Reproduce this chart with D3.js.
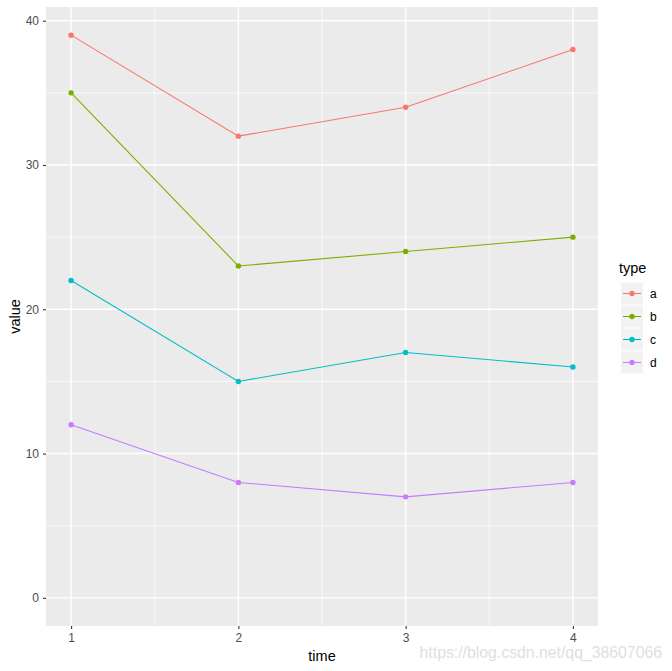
<!DOCTYPE html>
<html><head><meta charset="utf-8">
<script src="https://cdn.jsdelivr.net/npm/d3@7"></script>
<style>body{margin:0;background:#fff}svg{display:block}text{font-family:Arial,"Liberation Sans",sans-serif}</style>
</head><body><svg id="c" width="672" height="671"></svg>
<script>
const times = [1, 2, 3, 4];
const types = ["a", "b", "c", "d"];
const valuesA = [39, 32, 34, 38];
const valuesB = [35, 23, 24, 25];
const valuesC = [22, 15, 17, 16];
const valuesD = [12, 8, 7, 8];
const colors = ["#F8766D", "#7CAE00", "#00BFC4", "#C77CFF"];
const yTicks = [0, 10, 20, 30, 40];
const yMinor = [5, 15, 25, 35];
const xMinor = [1.5, 2.5, 3.5];
const series = [valuesA, valuesB, valuesC, valuesD];

const svg = d3.select("#c");
const L = 46, R = 598, T = 7, B = 626;
const x = d3.scaleLinear().domain([0.85, 4.15]).range([L, R]);
const y = d3.scaleLinear().domain([-1.95, 40.95]).range([B, T]);

svg.append("rect").attr("x", L).attr("y", T).attr("width", R - L).attr("height", B - T).attr("fill", "#EBEBEB");
const g = svg.append("g");
yMinor.forEach(v => g.append("line").attr("x1", L).attr("x2", R).attr("y1", y(v)).attr("y2", y(v)).attr("stroke", "#fff").attr("stroke-width", 0.7));
xMinor.forEach(v => g.append("line").attr("y1", T).attr("y2", B).attr("x1", x(v)).attr("x2", x(v)).attr("stroke", "#fff").attr("stroke-width", 0.7));
yTicks.forEach(v => g.append("line").attr("x1", L).attr("x2", R).attr("y1", y(v)).attr("y2", y(v)).attr("stroke", "#fff").attr("stroke-width", 1.4));
times.forEach(v => g.append("line").attr("y1", T).attr("y2", B).attr("x1", x(v)).attr("x2", x(v)).attr("stroke", "#fff").attr("stroke-width", 1.4));

// axes
const yAxis = svg.append("g").attr("transform", `translate(${L},0)`)
  .call(d3.axisLeft(y).tickValues(yTicks).tickSize(3).tickPadding(4).tickFormat(d3.format("d")));
const xAxis = svg.append("g").attr("transform", `translate(0,${B})`)
  .call(d3.axisBottom(x).tickValues(times).tickSize(3).tickPadding(4).tickFormat(d3.format("d")));
[yAxis, xAxis].forEach(a => {
  a.select(".domain").remove();
  a.selectAll(".tick line").attr("stroke", "#333").attr("stroke-width", 1.1);
  a.selectAll(".tick text").attr("fill", "#4D4D4D").style("font-size", "12px").style("font-family", "Arial, 'Liberation Sans', sans-serif");
});

const line = d3.line().x((d, i) => x(times[i])).y(d => y(d));
series.forEach((s, k) => {
  svg.append("path").datum(s).attr("d", line).attr("fill", "none").attr("stroke", colors[k]).attr("stroke-width", 1.07);
  svg.selectAll(null).data(s).enter().append("circle")
    .attr("cx", (d, i) => x(times[i])).attr("cy", d => y(d)).attr("r", 2.7).attr("fill", colors[k]);
});

// axis titles
svg.append("text").attr("x", (L + R) / 2).attr("y", 661).attr("text-anchor", "middle").style("font-size", "14.5px").attr("fill", "#000").text("time");
svg.append("text").attr("transform", `translate(20,${(T + B) / 2}) rotate(-90)`).attr("text-anchor", "middle").style("font-size", "14.5px").attr("fill", "#000").text("value");

// legend
svg.append("text").attr("x", 619).attr("y", 273).style("font-size", "14.5px").attr("fill", "#000").text("type");
types.forEach((t, k) => {
  const cy = 293.5 + k * 23;
  svg.append("rect").attr("x", 621).attr("y", cy - 11).attr("width", 22).attr("height", 22).attr("fill", "#F2F2F2");
  svg.append("line").attr("x1", 623).attr("x2", 641).attr("y1", cy).attr("y2", cy).attr("stroke", colors[k]).attr("stroke-width", 1.07);
  svg.append("circle").attr("cx", 632).attr("cy", cy).attr("r", 2.7).attr("fill", colors[k]);
  svg.append("text").attr("x", 650).attr("y", cy + 4.5).style("font-size", "12px").attr("fill", "#000").text(t);
});

// watermark
svg.append("text").attr("x", 662).attr("y", 658).attr("text-anchor", "end").style("font-size", "15.8px").attr("fill", "#E0E0E0").text("https://blog.csdn.net/qq_38607066");
</script></body></html>
